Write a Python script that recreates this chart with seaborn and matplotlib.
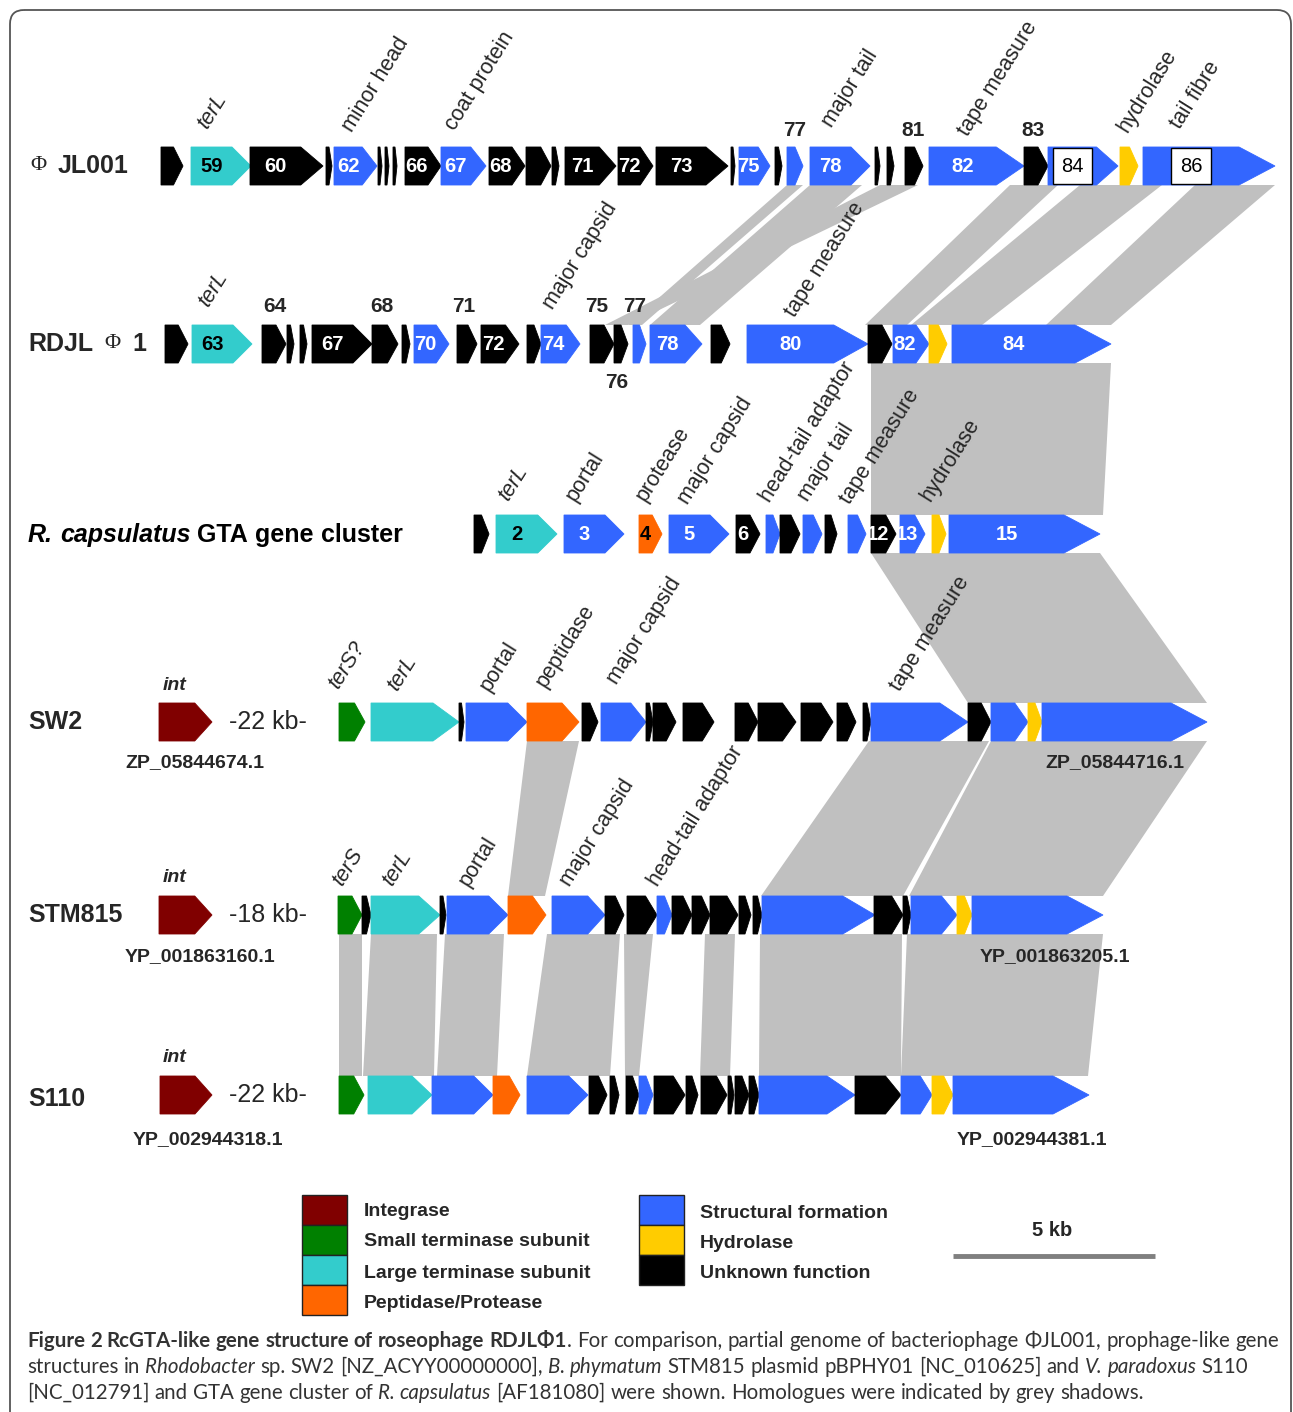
import numpy as np
import pandas as pd
import matplotlib.pyplot as plt
import seaborn as sns
from matplotlib.patches import FancyBboxPatch, Rectangle

# Цвета функциональных групп генов
colors = {'int': '#800000', 'terS': '#008000', 'terL': '#33CCCC', 'pep': '#FF6600',
          'str': '#3366FF', 'hyd': '#FFCC00', 'unk': '#000000'}
shade = '#C0C0C0'

# ---- гены: начало, конец (в пикселях ~ kb), категория, номер ----
jl_x0 = [161, 191, 250, 326, 334, 378, 385, 393, 405, 441, 489, 526, 552, 565, 618, 656,
         731, 739, 775, 787, 810, 875, 887, 905, 929, 1024, 1048, 1120, 1143]
jl_x1 = [183, 251, 323, 332, 377, 382, 389, 397, 441, 486, 525, 551, 559, 616, 653, 728,
         735, 770, 782, 803, 870, 880, 894, 923, 1024, 1048, 1118, 1138, 1275]
jl_cat = ['unk', 'terL', 'unk', 'unk', 'str', 'unk', 'unk', 'unk', 'unk', 'str', 'unk', 'unk',
          'unk', 'unk', 'unk', 'unk', 'unk', 'str', 'unk', 'str', 'str', 'unk', 'unk', 'unk',
          'str', 'unk', 'str', 'hyd', 'str']
jl_num = ['', '59', '60', '', '62', '', '', '', '66', '67', '68', '', '', '71', '72', '73',
          '', '75', '', '', '78', '', '', '', '82', '', '84', '', '86']
jl_boxed = ['84', '86']

rd_x0 = [165, 192, 262, 287, 300, 312, 372, 402, 414, 457, 481, 527, 541, 590, 614, 633,
         650, 711, 747, 868, 893, 929, 952]
rd_x1 = [188, 252, 286, 294, 307, 372, 398, 410, 449, 477, 519, 541, 580, 614, 628, 646,
         702, 730, 868, 892, 929, 947, 1111]
rd_cat = ['unk', 'terL', 'unk', 'unk', 'unk', 'unk', 'unk', 'unk', 'str', 'unk', 'unk', 'unk',
          'str', 'unk', 'unk', 'str', 'str', 'unk', 'str', 'unk', 'str', 'hyd', 'str']
rd_num = ['', '63', '', '', '', '67', '', '', '70', '', '72', '', '74', '', '', '',
          '78', '', '80', '', '82', '', '84']

gta_x0 = [474, 496, 564, 639, 669, 736, 766, 780, 803, 825, 848, 871, 900, 932, 949]
gta_x1 = [489, 557, 624, 662, 729, 760, 780, 800, 822, 837, 866, 896, 925, 946, 1100]
gta_cat = ['unk', 'terL', 'str', 'pep', 'str', 'unk', 'str', 'unk', 'str', 'unk', 'str',
           'unk', 'str', 'hyd', 'str']
gta_num = ['', '2', '3', '4', '5', '6', '', '', '', '', '', '12', '13', '', '15']

sw_x0 = [159, 339, 371, 459, 466, 527, 582, 601, 646, 653, 683, 735, 758, 801, 837, 863,
         871, 968, 991, 1028, 1042]
sw_x1 = [212, 365, 459, 464, 527, 579, 598, 646, 653, 676, 714, 758, 796, 833, 856, 871,
         968, 991, 1028, 1042, 1207]
sw_cat = ['int', 'terS', 'terL', 'unk', 'str', 'pep', 'unk', 'str', 'unk', 'unk', 'unk', 'unk',
          'unk', 'unk', 'unk', 'unk', 'str', 'unk', 'str', 'hyd', 'str']

stm_x0 = [159, 338, 362, 371, 440, 447, 508, 552, 605, 627, 657, 672, 692, 710, 739, 753,
          762, 874, 903, 911, 957, 972]
stm_x1 = [212, 362, 371, 440, 446, 508, 546, 605, 624, 657, 672, 692, 710, 738, 751, 762,
          875, 903, 911, 957, 972, 1103]
stm_cat = ['int', 'terS', 'unk', 'terL', 'unk', 'str', 'pep', 'str', 'unk', 'unk', 'str', 'unk',
           'unk', 'unk', 'unk', 'unk', 'str', 'unk', 'unk', 'str', 'hyd', 'str']

s110_x0 = [160, 339, 368, 432, 493, 527, 589, 610, 626, 639, 654, 686, 701, 728, 735, 749,
           759, 855, 901, 932, 953]
s110_x1 = [212, 364, 432, 493, 520, 588, 607, 619, 639, 653, 685, 698, 727, 734, 749, 759,
           855, 901, 932, 953, 1089]
s110_cat = ['int', 'terS', 'terL', 'str', 'pep', 'str', 'unk', 'unk', 'unk', 'str', 'unk', 'unk',
            'unk', 'unk', 'unk', 'unk', 'str', 'unk', 'str', 'hyd', 'str']

# ---- гомологи (серые тени): верх x0, x1 -> низ x0, x1 ----
jl_rd_top0 = [787, 810, 880, 1010, 1080, 1195]
jl_rd_top1 = [803, 862, 918, 1058, 1162, 1275]
jl_rd_bot0 = [628, 650, 605, 865, 911, 1046]
jl_rd_bot1 = [642, 700, 628, 907, 982, 1111]

rd_gta_top0, rd_gta_top1, rd_gta_bot0, rd_gta_bot1 = [871], [1111], [871], [1103]
gta_sw_top0, gta_sw_top1, gta_sw_bot0, gta_sw_bot1 = [871], [1100], [968], [1207]

sw_stm_top0 = [527, 869, 991]
sw_stm_top1 = [579, 989, 1207]
sw_stm_bot0 = [508, 761, 909]
sw_stm_bot1 = [545, 903, 1103]

stm_s_top0 = [339, 371, 445, 547, 624, 705, 760, 907]
stm_s_top1 = [362, 437, 504, 620, 653, 735, 902, 1103]
stm_s_bot0 = [339, 363, 437, 527, 625, 700, 759, 901]
stm_s_bot1 = [362, 434, 497, 610, 639, 730, 901, 1088]

legend_left = ['Integrase', 'Small terminase subunit', 'Large terminase subunit', 'Peptidase/Protease']
legend_left_cat = ['int', 'terS', 'terL', 'pep']
legend_right = ['Structural formation', 'Hydrolase', 'Unknown function']
legend_right_cat = ['str', 'hyd', 'unk']

sns.set_theme(style='white')
plt.rcParams['font.family'] = ['Liberation Sans', 'DejaVu Sans']

W, H = 1293, 1412
fig = plt.figure(figsize=(W / 100, H / 100), dpi=100)
ax = fig.add_axes([0, 0, 1, 1])
ax.set_xlim(0, W)
ax.set_ylim(H, 0)
ax.axis('off')
renderer = fig.canvas.get_renderer()

HALF = 19
yc = {'jl': 166, 'rd': 344, 'gta': 534, 'sw': 722, 'stm': 915, 's110': 1095}


def head_len(L):
    return min(0.25 * L + 4, 0.5 * L, 36)


def draw_track(y, x0s, x1s, cats, nums=None, boxed=()):
    for i, (a, b, c) in enumerate(zip(x0s, x1s, cats)):
        L = b - a
        h = head_len(L)
        xs = [a, b - h, b, b - h, a]
        ys = [y - HALF, y - HALF, y, y + HALF, y + HALF]
        ax.fill(xs, ys, color=colors[c], lw=0.6, ec=colors[c], zorder=3)
        if nums and nums[i]:
            cx = (a + b - h) / 2
            if nums[i] in boxed:
                ax.text(cx, y, nums[i], ha='center', va='center', fontsize=14.5,
                        color='black', zorder=5,
                        bbox=dict(boxstyle='square,pad=0.42', fc='white', ec='black', lw=1))
            else:
                tc = 'black' if c in ('terL', 'pep') else 'white'
                ax.text(cx, y + 1, nums[i], ha='center', va='center', fontsize=14.5,
                        fontweight='bold', color=tc, zorder=5)


def draw_links(yt, yb, t0, t1, b0, b1):
    for a, b, c, d in zip(t0, t1, b0, b1):
        ax.fill([a, b, d, c], [yt, yt, yb, yb], color=shade, lw=0, zorder=1)


draw_links(yc['jl'] + HALF, yc['rd'] - HALF, jl_rd_top0, jl_rd_top1, jl_rd_bot0, jl_rd_bot1)
draw_links(yc['rd'] + HALF, yc['gta'] - HALF, rd_gta_top0, rd_gta_top1, rd_gta_bot0, rd_gta_bot1)
draw_links(yc['gta'] + HALF, yc['sw'] - HALF, gta_sw_top0, gta_sw_top1, gta_sw_bot0, gta_sw_bot1)
draw_links(yc['sw'] + HALF, yc['stm'] - HALF, sw_stm_top0, sw_stm_top1, sw_stm_bot0, sw_stm_bot1)
draw_links(yc['stm'] + HALF, yc['s110'] - HALF, stm_s_top0, stm_s_top1, stm_s_bot0, stm_s_bot1)

draw_track(yc['jl'], jl_x0, jl_x1, jl_cat, jl_num, jl_boxed)
draw_track(yc['rd'], rd_x0, rd_x1, rd_cat, rd_num)
draw_track(yc['gta'], gta_x0, gta_x1, gta_cat, gta_num)
draw_track(yc['sw'], sw_x0, sw_x1, sw_cat)
draw_track(yc['stm'], stm_x0, stm_x1, stm_cat)
draw_track(yc['s110'], s110_x0, s110_x1, s110_cat)

# ---- повернутые подписи генов ----
ROT = 58
rot_labels = [
    ('terL', 207, 130, True), ('minor head', 352, 133, False), ('coat protein', 455, 131, False),
    ('major tail', 832, 128, False), ('tape measure', 968, 137, False),
    ('hydrolase', 1127, 133, False), ('tail fibre', 1180, 130, False),
    ('terL', 208, 308, True), ('major capsid', 553, 310, False), ('tape measure', 795, 318, False),
    ('terL', 508, 502, True), ('portal', 575, 502, False), ('protease', 645, 502, False),
    ('major capsid', 688, 505, False), ('head-tail adaptor', 770, 503, False),
    ('major tail', 808, 502, False), ('tape measure', 850, 505, False),
    ('hydrolase', 930, 502, False),
    ('terS?', 338, 690, True), ('terL', 397, 692, True), ('portal', 489, 692, False),
    ('peptidase', 545, 688, False), ('major capsid', 617, 685, False),
    ('tape measure', 900, 692, False),
    ('terS', 342, 887, True), ('terL', 392, 887, True), ('portal', 468, 887, False),
    ('major capsid', 570, 887, False), ('head-tail adaptor', 658, 887, False),
]
for txt, x, y, it in rot_labels:
    ax.text(x, y, txt, rotation=ROT, rotation_mode='anchor', ha='left', va='baseline',
            fontsize=15.5, fontstyle='italic' if it else 'normal', zorder=6)

# номера над/под генами
num_labels = [('77', 795, 130), ('81', 913, 130), ('83', 1033, 130),
              ('64', 275, 307), ('68', 382, 307), ('71', 464, 307), ('75', 597, 307),
              ('77', 635, 307), ('76', 617, 383)]
for txt, x, y in num_labels:
    ax.text(x, y, txt, ha='center', va='center', fontsize=15, fontweight='bold', zorder=6)

styles = {'r': {}, 'b': {'fontweight': 'bold'}, 'i': {'fontstyle': 'italic'},
          'bi': {'fontweight': 'bold', 'fontstyle': 'italic'}}


def text_w(s, size, family, kw):
    t = ax.text(0, 0, s, fontsize=size, family=family, **kw)
    w = t.get_window_extent(renderer).width
    t.remove()
    return w


def rich(x, y, parts, size, family, va='baseline', color='black'):
    for txt, st in parts:
        kw = styles[st]
        sp = text_w('x x', size, family, kw) - text_w('xx', size, family, kw)
        for i, w in enumerate(txt.split(' ')):
            if i > 0:
                x += sp
            if w:
                t = ax.text(x, y, w, fontsize=size, family=family, va=va, ha='left',
                            color=color, **kw)
                x += t.get_window_extent(renderer).width
    return x


# названия треков
lab_font = ['Liberation Sans', 'DejaVu Sans']
TS = 18
ax.text(30, 166, 'Φ', fontsize=16, family=['Liberation Serif', 'DejaVu Serif'], va='center')
ax.text(58, 166, 'JL001', fontsize=TS, fontweight='bold', va='center')
ax.text(28, 344, 'RDJL', fontsize=TS, fontweight='bold', va='center')
ax.text(104, 344, 'Φ', fontsize=16, family=['Liberation Serif', 'DejaVu Serif'], va='center')
ax.text(132, 344, '1', fontsize=TS, fontweight='bold', va='center')
rich(28, 535, [('R. capsulatus', 'bi'), (' GTA gene cluster', 'b')], TS, lab_font, va='center')
for name, y in [('SW2', 722), ('STM815', 915), ('S110', 1099)]:
    ax.text(28, y, name, fontsize=TS, fontweight='bold', va='center')

# интеграза, пропуск и номера белков
for y, gap in [(yc['sw'], '-22 kb-'), (yc['stm'], '-18 kb-'), (yc['s110'], '-22 kb-')]:
    ax.text(175, y - 37, 'int', fontsize=14, fontweight='bold', fontstyle='italic',
            ha='center', va='center')
    ax.text(268, y, gap, fontsize=18, ha='center', va='center')
acc = [('ZP_05844674.1', 195, 763), ('ZP_05844716.1', 1115, 763),
       ('YP_001863160.1', 200, 957), ('YP_001863205.1', 1055, 957),
       ('YP_002944318.1', 208, 1140), ('YP_002944381.1', 1032, 1140)]
for txt, x, y in acc:
    ax.text(x, y, txt, fontsize=14, fontweight='bold', ha='center', va='center')

# ---- легенда ----
for i, (lab, c) in enumerate(zip(legend_left, legend_left_cat)):
    ax.add_patch(Rectangle((302, 1195 + 30 * i), 45, 30, fc=colors[c], ec='#222222', lw=1, zorder=3))
    ax.text(364, 1211 + 31 * i, lab, fontsize=14, fontweight='bold', va='center')
for i, (lab, c) in enumerate(zip(legend_right, legend_right_cat)):
    ax.add_patch(Rectangle((639, 1195 + 30 * i), 45, 30, fc=colors[c], ec='#222222', lw=1, zorder=3))
    ax.text(700, 1213 + 30 * i, lab, fontsize=14, fontweight='bold', va='center')

ax.text(1052, 1230, '5 kb', fontsize=14.5, fontweight='bold', ha='center', va='center')
ax.plot([953, 1155], [1256, 1256], color='#808080', lw=3.5, solid_capstyle='butt')

# ---- подпись к рисунку ----
cap_font = ['Lato', 'DejaVu Sans']
cs = 14.8
cc = '#333333'
rich(27, 1347, [('Figure 2 RcGTA-like gene structure of roseophage RDJLΦ1', 'b'),
                ('. For comparison, partial genome of bacteriophage ΦJL001, prophage-like gene', 'r')],
     cs, cap_font, color=cc)
rich(27, 1373, [('structures in ', 'r'), ('Rhodobacter', 'i'), (' sp. SW2 [NZ_ACYY00000000], ', 'r'),
                ('B. phymatum', 'i'), (' STM815 plasmid pBPHY01 [NC_010625] and ', 'r'),
                ('V. paradoxus', 'i'), (' S110', 'r')], cs, cap_font, color=cc)
rich(27, 1399, [('[NC_012791] and GTA gene cluster of ', 'r'), ('R. capsulatus', 'i'),
                (' [AF181080] were shown. Homologues were indicated by grey shadows.', 'r')],
     cs, cap_font, color=cc)

# рамка
ax.add_patch(FancyBboxPatch((10, 10), 1281, 1440, boxstyle='round,pad=0,rounding_size=14',
                            fc='none', ec='#555555', lw=1.3, zorder=0))

fig.savefig('out.png', dpi=100)
